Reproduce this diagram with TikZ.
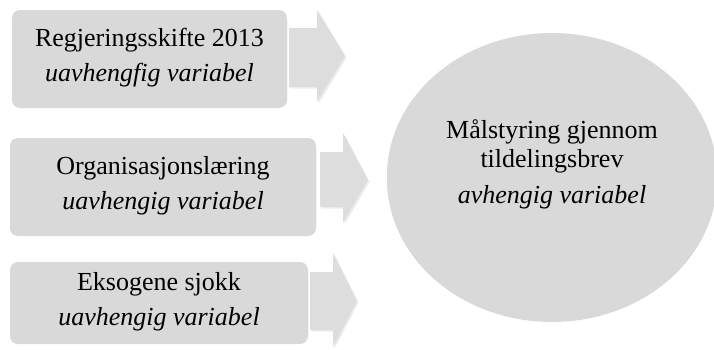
\documentclass[tikz,border=0pt]{standalone}
\usepackage{fontspec}
\setmainfont{Liberation Serif}
\usetikzlibrary{shadows,shapes.geometric}
\definecolor{boxgray}{RGB}{217,217,217}
\definecolor{arrowgray}{RGB}{221,221,221}
\tikzset{
  varbox/.style={fill=boxgray, rounded corners=4pt, align=center, inner sep=0pt,
    font=\fontsize{13}{17.5}\selectfont,
    drop shadow={opacity=0.3, shadow xshift=0pt, shadow yshift=-1.5pt}},
  depell/.style={ellipse, fill=boxgray, inner sep=0pt,
    drop shadow={opacity=0.3, shadow xshift=0pt, shadow yshift=-1.5pt}},
  deptext/.style={align=center, inner sep=0pt, font=\fontsize{13}{14.5}\selectfont},
  flow/.style={fill=arrowgray, draw=none,
    drop shadow={opacity=0.15, shadow xshift=0.8pt, shadow yshift=-0.8pt}}
}
\begin{document}
\begin{tikzpicture}[x=0.5pt,y=-0.5pt]
\useasboundingbox (0,0) rectangle (714,349);
% independent variables
\node[varbox, minimum width=137.5pt, minimum height=47.5pt] (regj) at (149.5,57.5) {Regjeringsskifte 2013\\\textit{uavhengfig variabel}};
\node[varbox, minimum width=153pt, minimum height=47.5pt] (org) at (163,185.5) {Organisasjonslæring\\\textit{uavhengig variabel}};
\node[varbox, minimum width=149pt, minimum height=39.5pt] (eks) at (159,301.5) {Eksogene sjokk\\\textit{uavhengig variabel}};
% block arrows
\draw[flow] (289,28) -- ++(28,0) -- ++(0,-18) -- ++(28,46) -- ++(-28,46) -- ++(0,-15) -- ++(-28,0) -- cycle;
\draw[flow] (320,152) -- ++(23,0) -- ++(0,-19) -- ++(25,47) -- ++(-25,43) -- ++(0,-16) -- ++(-23,0) -- cycle;
\draw[flow] (310,272) -- ++(23,0) -- ++(0,-19) -- ++(24,48) -- ++(-24,46) -- ++(0,-17) -- ++(-23,0) -- cycle;
% dependent variable
\node[depell, minimum width=165pt, minimum height=143pt] (maal) at (552,176) {};
\node[deptext] (maaltxt) at (552,164) {Målstyring gjennom\\tildelingsbrev\\[3.5pt]\textit{avhengig variabel}};
\end{tikzpicture}
\end{document}
